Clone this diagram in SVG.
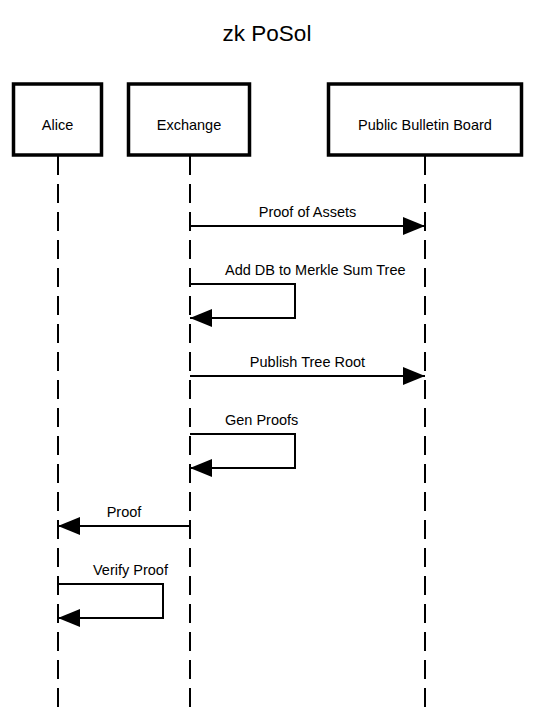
<svg xmlns="http://www.w3.org/2000/svg" width="534" height="711" viewBox="0 0 534 711">
<style>
  text { font-family: "Liberation Sans", Arial, sans-serif; fill: #000; }
  .title { font-size: 22.5px; text-anchor: middle; }
  .actor rect { fill: #fff; stroke: #000; stroke-width: 3.5; }
  .actor text { font-size: 14.5px; text-anchor: middle; }
  .life { stroke: #000; stroke-width: 2; stroke-dasharray: 19 9; fill: none; }
  .msg { stroke: #000; stroke-width: 2; fill: none; }
  .lbl { font-size: 14.5px; }
  .mid { text-anchor: middle; }
</style>
<defs>
  <marker id="ah" viewBox="0 0 22 18" refX="22" refY="9" markerWidth="22" markerHeight="18" markerUnits="userSpaceOnUse" orient="auto">
    <path d="M0,0 L22,9 L0,18 Z" fill="#000"/>
  </marker>
</defs>
<rect width="534" height="711" fill="#fff"/>
<text class="title" x="267" y="41">zk PoSol</text>

<g id="lifelines">
  <line class="life" x1="58" y1="156" x2="58" y2="711"/>
  <line class="life" x1="190" y1="156" x2="190" y2="711"/>
  <line class="life" x1="425" y1="156" x2="425" y2="711"/>
</g>

<g id="alice" class="actor">
  <rect x="13.5" y="84" width="88" height="71"/>
  <text x="57.5" y="129.5">Alice</text>
</g>
<g id="exchange" class="actor">
  <rect x="128.5" y="84" width="121" height="71"/>
  <text x="189" y="129.5">Exchange</text>
</g>
<g id="board" class="actor">
  <rect x="328.5" y="84" width="193" height="71"/>
  <text x="425" y="129.5">Public Bulletin Board</text>
</g>

<g id="connectors">
  <line class="msg" x1="190" y1="226" x2="425" y2="226" marker-end="url(#ah)"/>
  <text class="lbl mid" x="307.5" y="216.5">Proof of Assets</text>

  <path class="msg" d="M190,284 H295 V318 H190" marker-end="url(#ah)"/>
  <text class="lbl" x="225" y="274.5">Add DB to Merkle Sum Tree</text>

  <line class="msg" x1="190" y1="376" x2="425" y2="376" marker-end="url(#ah)"/>
  <text class="lbl mid" x="307.5" y="366.5">Publish Tree Root</text>

  <path class="msg" d="M190,434 H295 V468 H190" marker-end="url(#ah)"/>
  <text class="lbl" x="225" y="424.5">Gen Proofs</text>

  <line class="msg" x1="190" y1="526" x2="58" y2="526" marker-end="url(#ah)"/>
  <text class="lbl mid" x="124" y="516.5">Proof</text>

  <path class="msg" d="M58,584 H163 V618 H58" marker-end="url(#ah)"/>
  <text class="lbl" x="93" y="574.5">Verify Proof</text>
</g>
</svg>
